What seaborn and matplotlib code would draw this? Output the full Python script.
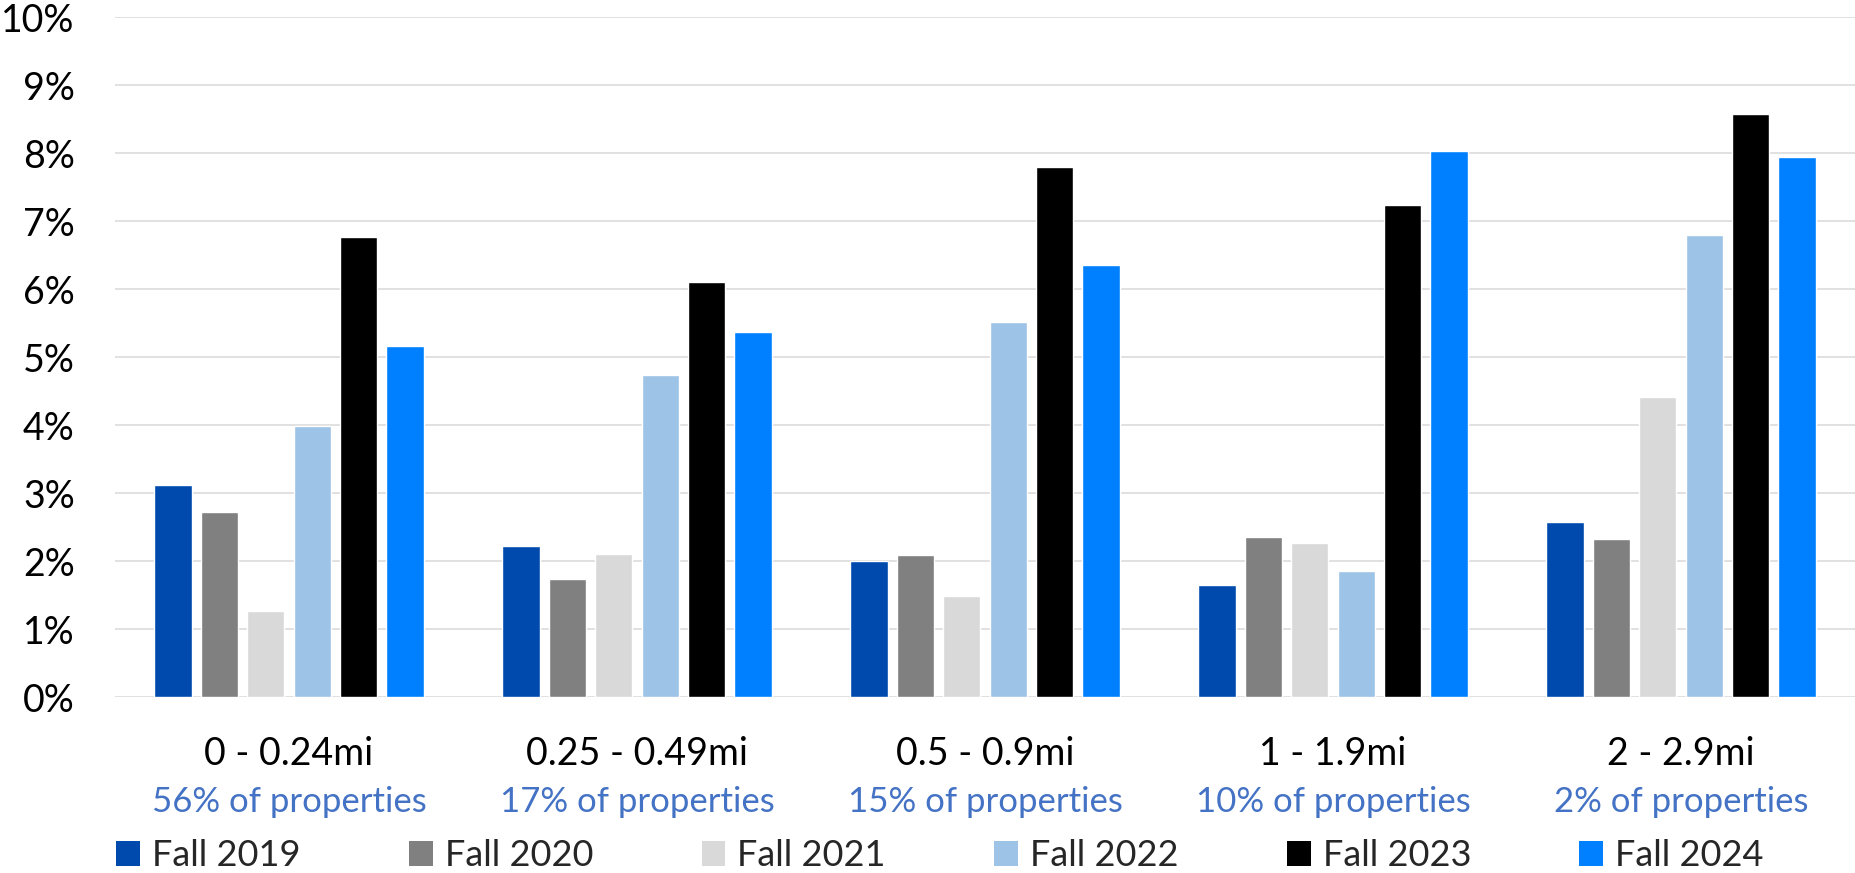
import matplotlib
matplotlib.use("Agg")
import matplotlib.pyplot as plt
import matplotlib.ticker as mticker
from matplotlib.patches import Patch
import pandas as pd
import seaborn as sns

# Distance bands and the share of properties in each band
distance_bands = ["0 - 0.24mi", "0.25 - 0.49mi", "0.5 - 0.9mi", "1 - 1.9mi", "2 - 2.9mi"]
property_share = ["56% of properties", "17% of properties", "15% of properties",
                  "10% of properties", "2% of properties"]

seasons = ["Fall 2019", "Fall 2020", "Fall 2021", "Fall 2022", "Fall 2023", "Fall 2024"]

# Percent values per season, one entry per distance band
fall_2019 = [3.12, 2.22, 2.00, 1.65, 2.57]
fall_2020 = [2.72, 1.74, 2.09, 2.36, 2.32]
fall_2021 = [1.27, 2.10, 1.49, 2.26, 4.41]
fall_2022 = [3.99, 4.73, 5.51, 1.86, 6.79]
fall_2023 = [6.76, 6.11, 7.79, 7.23, 8.58]
fall_2024 = [5.16, 5.37, 6.36, 8.03, 7.94]

season_colors = ["#004AAD", "#808080", "#D9D9D9", "#9DC3E6", "#000000", "#0080FF"]

series = [fall_2019, fall_2020, fall_2021, fall_2022, fall_2023, fall_2024]
df = pd.DataFrame(
    [(band, season, val)
     for season, vals in zip(seasons, series)
     for band, val in zip(distance_bands, vals)],
    columns=["band", "season", "value"],
)

sns.set_theme(style="white")
plt.rcParams["font.family"] = ["Lato", "DejaVu Sans"]

W, H = 1855, 873
fig = plt.figure(figsize=(W / 100, H / 100), dpi=100)
ax = fig.add_axes([115 / W, 1 - 697 / H, 1 - 115 / W, (697 - 17) / H])

palette = dict(zip(seasons, season_colors))
sns.barplot(data=df, x="band", y="value", hue="season", order=distance_bands,
            hue_order=seasons, palette=palette, width=0.8, gap=0.2,
            saturation=1, legend=False, ax=ax, zorder=3)

ax.set_ylim(0, 10)
ax.set_xlim(-0.5, len(distance_bands) - 0.5)
ax.yaxis.set_major_locator(mticker.MultipleLocator(1))
ax.yaxis.set_major_formatter(mticker.FuncFormatter(lambda v, p: f"{v:.0f}%"))
ax.grid(axis="y", color="#D9D9D9", linewidth=1.1, zorder=0)
ax.grid(axis="x", visible=False)
ax.set_axisbelow(True)
for s in ax.spines.values():
    s.set_visible(False)
ax.set_xlabel("")
ax.set_ylabel("")
ax.tick_params(axis="y", length=0, pad=29, labelsize=27, labelcolor="black")
ax.tick_params(axis="x", length=0, pad=0, labelsize=27, labelcolor="black")
ax.set_xticks(range(len(distance_bands)))
ax.set_xticklabels([])

# Two-line category labels: band name and share of properties
xform = matplotlib.transforms.blended_transform_factory(ax.transData, fig.transFigure)
for i, (band, share) in enumerate(zip(distance_bands, property_share)):
    ax.text(i, 1 - 765 / H, band, transform=xform, ha="center", va="baseline",
            fontsize=27, color="black")
    ax.text(i, 1 - 812 / H, share, transform=xform, ha="center", va="baseline",
            fontsize=25, color="#4472C4")

handles = [Patch(facecolor=c, edgecolor="none") for c in season_colors]
fig.legend(handles, seasons, loc="lower center", bbox_to_anchor=(940 / W, -0.024),
           ncol=6, frameon=False, fontsize=26, handlelength=0.66, handleheight=0.66,
           handletextpad=0.33, columnspacing=3.0, borderpad=0.1)

fig.savefig("out.png", dpi=100)
